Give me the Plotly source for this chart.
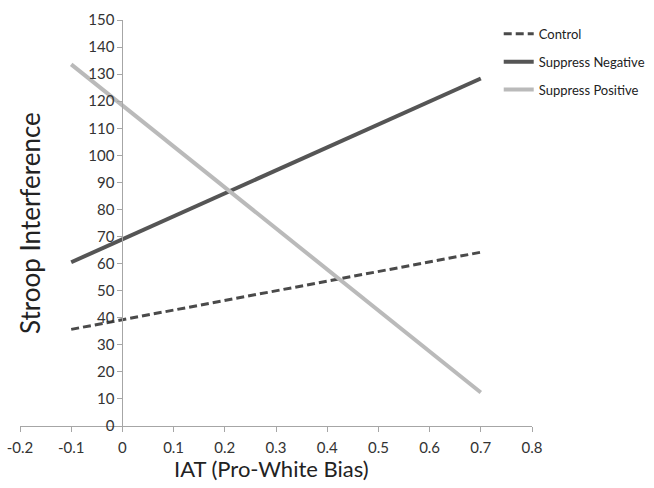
import plotly.graph_objects as go

x_vals = [-0.1, 0.7]
control = [35.7, 64.2]
suppress_negative = [60.5, 128.4]
suppress_positive = [133.6, 12.4]
x_ticks = [-0.2, -0.1, 0, 0.1, 0.2, 0.3, 0.4, 0.5, 0.6, 0.7, 0.8]
x_tick_labels = ["-0.2", "-0.1", "0", "0.1", "0.2", "0.3", "0.4", "0.5", "0.6", "0.7", "0.8"]
y_ticks = list(range(0, 151, 10))

FONT = "Lato, 'Open Sans', sans-serif"

fig = go.Figure()
fig.add_trace(go.Scatter(x=x_vals, y=control, mode="lines", name="Control",
                         legendgroup="a",
                         line=dict(color="#4a4a4a", width=3, dash="8px,4px")))
fig.add_trace(go.Scatter(x=x_vals, y=suppress_negative, mode="lines", name="Suppress Negative",
                         legendgroup="b",
                         line=dict(color="#555555", width=4)))
fig.add_trace(go.Scatter(x=x_vals, y=suppress_positive, mode="lines", name="Suppress Positive",
                         legendgroup="c",
                         line=dict(color="#bababa", width=4)))

axis_col = "#a6a6a6"
fig.update_layout(
    width=654, height=488,
    margin=dict(l=20, r=122, t=20, b=62, autoexpand=False),
    paper_bgcolor="white", plot_bgcolor="white",
    font=dict(family=FONT, size=15, color="#333333"),
    showlegend=True,
    legend=dict(x=0.935, y=1.003, xanchor="left", yanchor="top",
                font=dict(size=13, color="#222222"),
                tracegroupgap=8, bgcolor="rgba(0,0,0,0)"),
    xaxis=dict(range=[-0.2, 0.8], tickvals=x_ticks, ticktext=x_tick_labels,
               showgrid=False, zeroline=False, showline=True, linecolor=axis_col,
               linewidth=1, ticks="outside", ticklen=5, tickcolor=axis_col,
               anchor="y", tickfont=dict(size=15, color="#333333"),
               ticklabelstandoff=3, automargin=False),
    yaxis=dict(range=[0, 150], tickvals=y_ticks, showgrid=False, zeroline=False,
               showline=True, linecolor=axis_col, linewidth=1, ticks="outside",
               ticklen=5, tickcolor=axis_col, anchor="free", position=0.2,
               tickfont=dict(size=15, color="#333333"), automargin=False),
    annotations=[
        dict(text="Stroop Interference", xref="paper", yref="paper", x=0.0195, y=0.5,
             xanchor="center", yanchor="middle", textangle=-90, showarrow=False,
             font=dict(size=26, color="#222222")),
        dict(text="IAT (Pro-White Bias)", xref="paper", yref="paper", x=0.492, y=-0.104,
             xanchor="center", yanchor="middle", showarrow=False,
             font=dict(size=22, color="#222222")),
    ],
)

fig.write_html("out.html")
